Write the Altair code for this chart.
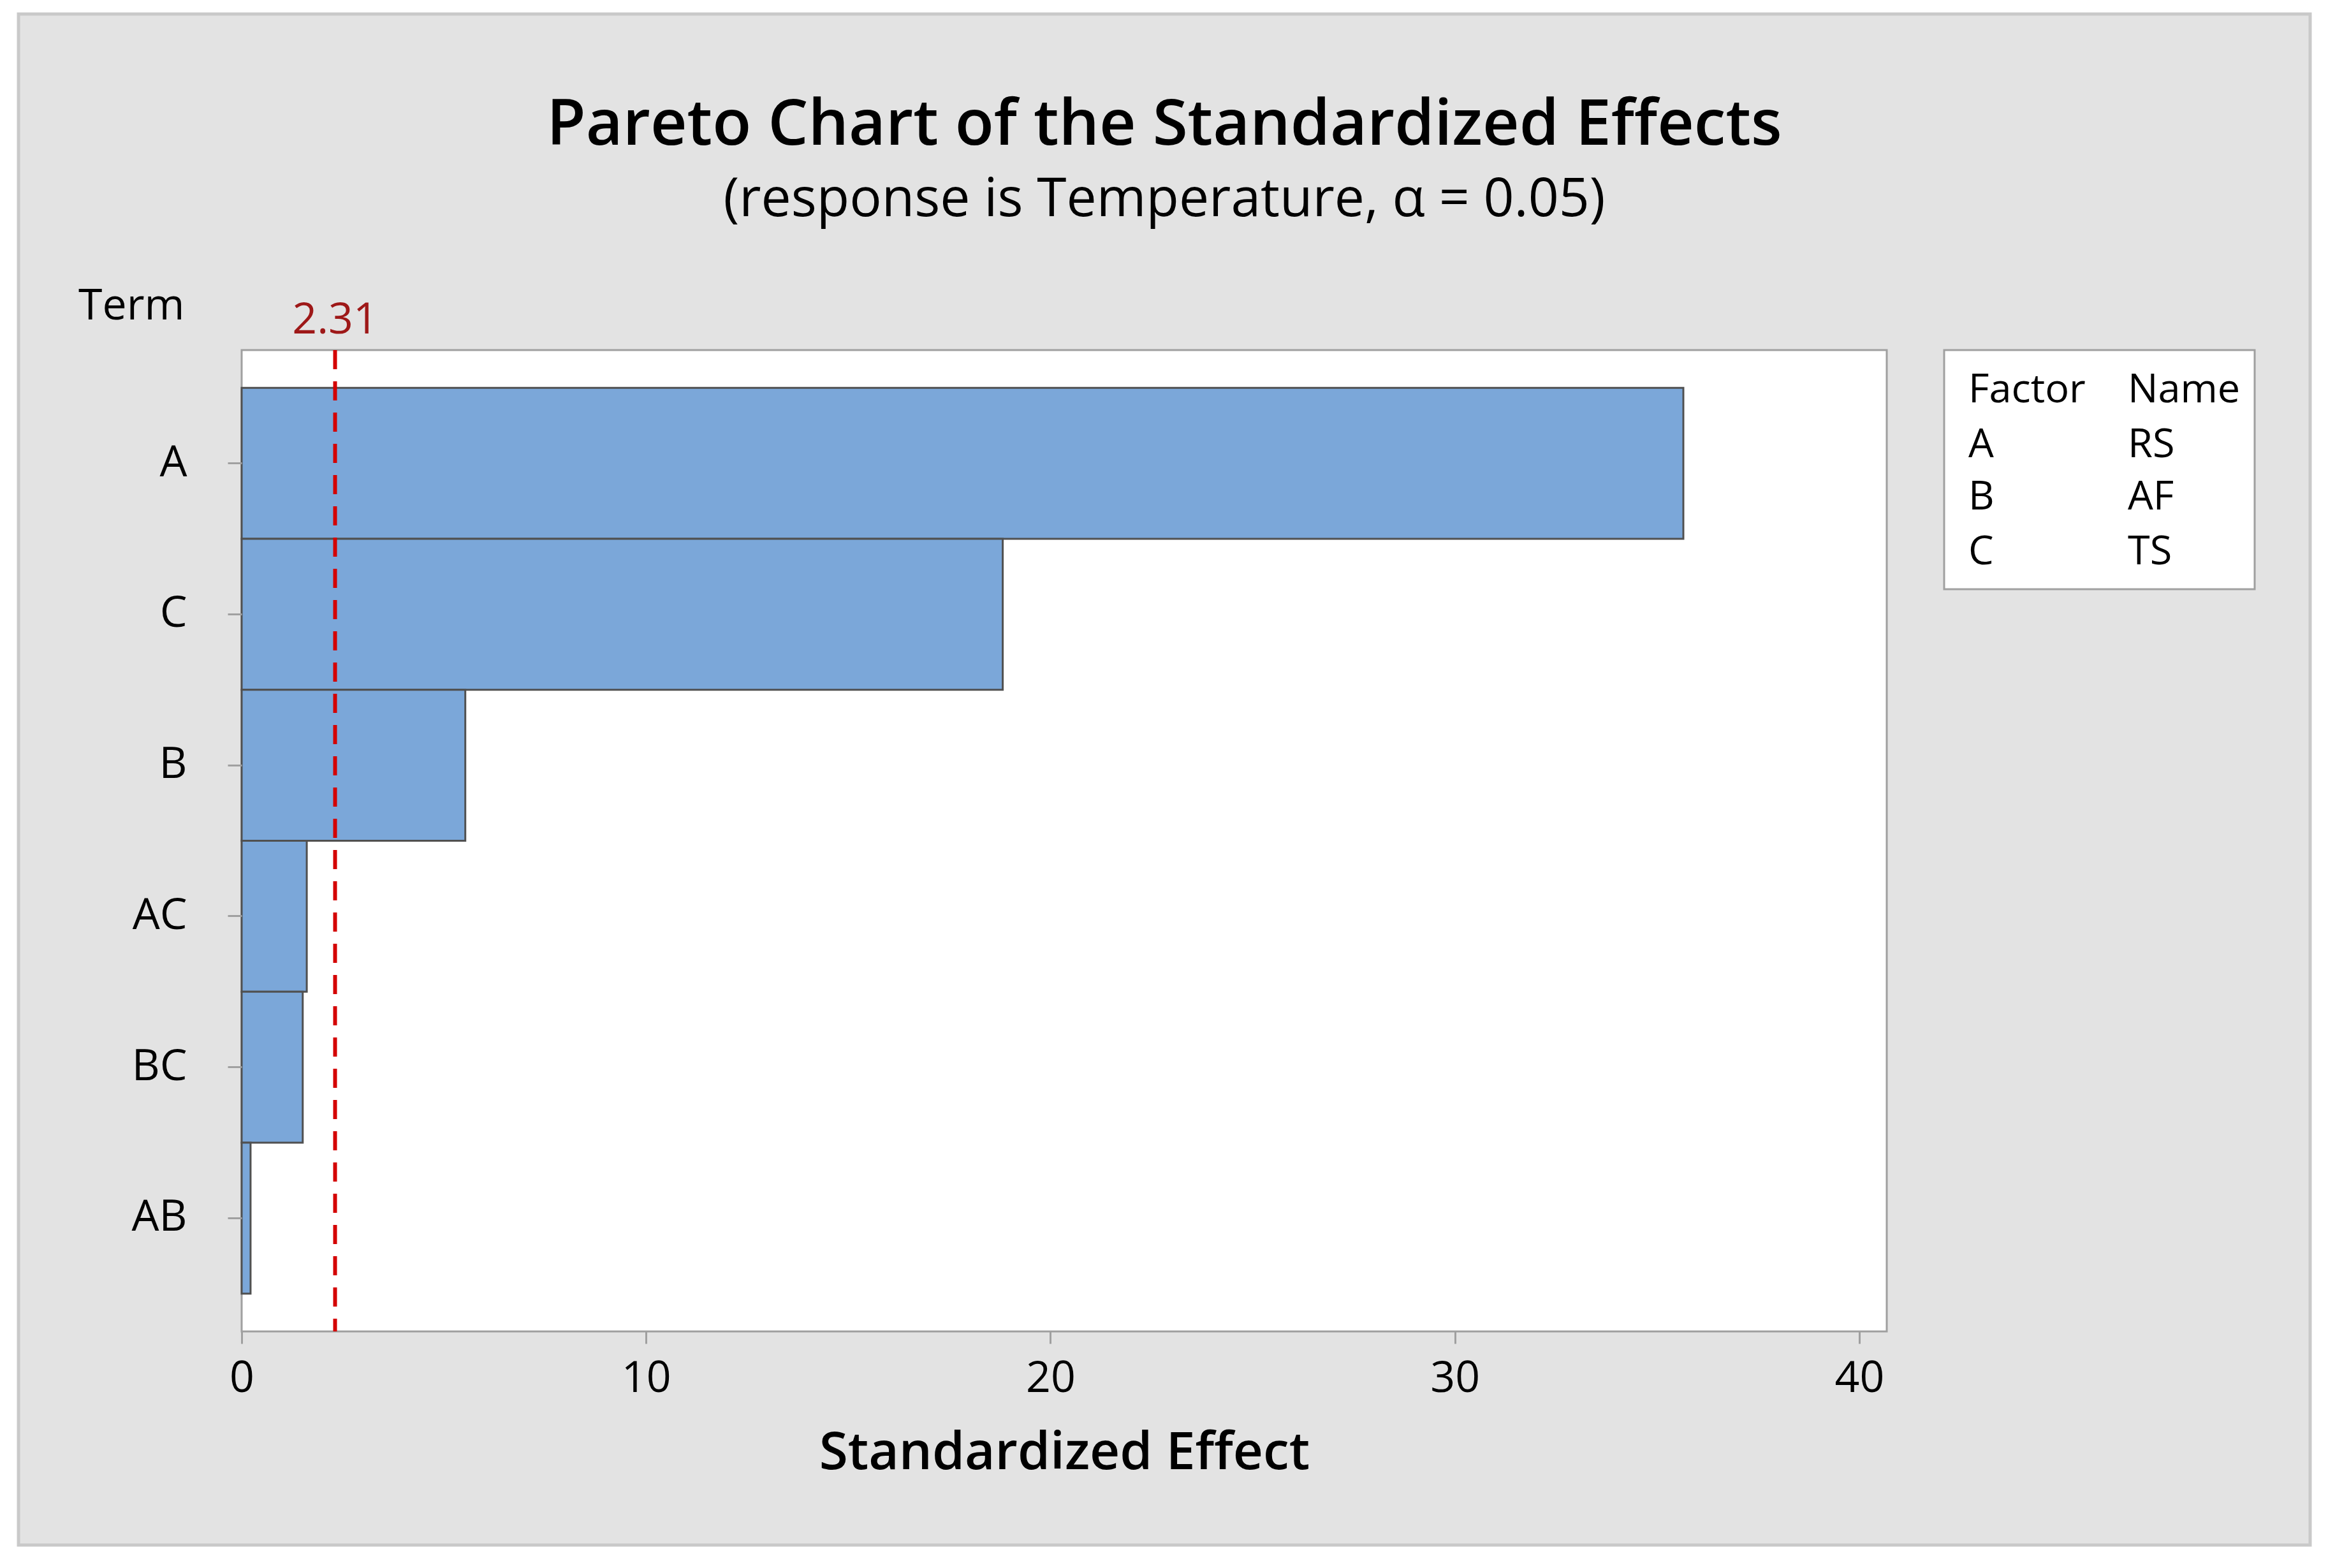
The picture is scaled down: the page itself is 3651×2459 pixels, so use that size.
import altair as alt
import pandas as pd

# ---- data ----
terms = ["A", "C", "B", "AC", "BC", "AB"]
effects = [35.65, 18.82, 5.53, 1.61, 1.51, 0.22]
critical_value = 2.31
factor_letters = ["A", "B", "C"]
factor_names = ["RS", "AF", "TS"]
x_ticks = [0, 10, 20, 30, 40]
x_max = 40.68

# ---- layout constants (pixels) ----
W, H = 2580, 1539
FONT = "Open Sans"
FS = 68
LW = 500

bars_df = pd.DataFrame({"Term": terms, "Effect": effects})
one = pd.DataFrame({"v": [critical_value]})

x_scale = alt.Scale(domain=[0, x_max], nice=False, zero=True)
y_scale = alt.Scale(domain=terms, paddingInner=0, paddingOuter=0.25)

# background panel (grey, with border)
panel = alt.Chart(one).mark_rect(fill="#e3e3e3", stroke="#c9c9c9", strokeWidth=5).encode(
    x=alt.value(-350), x2=alt.value(3244), y=alt.value(-527), y2=alt.value(1874)
)
# white plot area with grey frame
plot_bg = alt.Chart(one).mark_rect(fill="white", stroke="#a0a0a0", strokeWidth=3).encode(
    x=alt.value(0), x2=alt.value(W), y=alt.value(0), y2=alt.value(H)
)
# factor/name table box
table_box = alt.Chart(one).mark_rect(fill="white", stroke="#a0a0a0", strokeWidth=3).encode(
    x=alt.value(2670), x2=alt.value(3157), y=alt.value(0), y2=alt.value(375)
)

bars = alt.Chart(bars_df).mark_bar(
    fill="#7ba7d9", stroke="#505050", strokeWidth=3
).encode(
    x=alt.X(
        "Effect:Q",
        scale=x_scale,
        axis=alt.Axis(
            values=x_ticks,
            format="d",
            labelFlush=False,
            title="Standardized Effect",
            titleFontSize=82,
            titleFontWeight=600,
            titleFont=FONT,
            titleColor="black",
            titleX=W / 2,
            titleY=215,
            titleBaseline="alphabetic",
            labelFontSize=FS,
            labelFont=FONT,
            labelFontWeight=LW,
            labelColor="black",
            labelBaseline="alphabetic",
            labelPadding=75,
            tickSize=19,
            tickWidth=3,
            tickColor="#a0a0a0",
            domain=False,
            grid=False,
            zindex=1,
        ),
    ),
    y=alt.Y(
        "Term:N",
        scale=y_scale,
        sort=terms,
        axis=alt.Axis(
            title="Term",
            titleAngle=0,
            titleFontSize=FS,
            titleFontWeight=LW,
            titleFont=FONT,
            titleColor="black",
            titleX=-90,
            titleY=-49,
            titleAlign="right",
            titleBaseline="alphabetic",
            labelFontSize=FS,
            labelFont=FONT,
            labelFontWeight=LW,
            labelColor="black",
            labelPadding=64,
            tickSize=22,
            tickWidth=3,
            tickColor="#a0a0a0",
            domain=False,
            grid=False,
            zindex=1,
        ),
    ),
)

crit_rule = alt.Chart(one).mark_rule(
    color="#d40000", strokeWidth=6, strokeDash=[30, 19]
).encode(x=alt.X("v:Q", scale=x_scale))

crit_label = alt.Chart(one).mark_text(
    color="#9e1818", fontSize=FS, font=FONT, fontWeight=LW, baseline="alphabetic", align="center"
).encode(
    x=alt.X("v:Q", scale=x_scale),
    y=alt.value(-26),
    text=alt.Text("v:Q", format=".2f"),
)

# factor / name table
TFS = 63
table_layers = []
col_x = [2708, 2958]
row_y = [82, 168, 250, 336]
headers = ["Factor", "Name"]
for c, head in enumerate(headers):
    table_layers.append(
        alt.Chart(one).mark_text(
            text=head, fontSize=TFS, font=FONT, fontWeight=LW, color="black",
            align="left", baseline="alphabetic"
        ).encode(x=alt.value(col_x[c]), y=alt.value(row_y[0]))
    )
for r, (fl, fn) in enumerate(zip(factor_letters, factor_names)):
    for c, txt in enumerate([fl, fn]):
        table_layers.append(
            alt.Chart(one).mark_text(
                text=txt, fontSize=TFS, font=FONT, fontWeight=LW, color="black",
                align="left", baseline="alphabetic"
            ).encode(x=alt.value(col_x[c]), y=alt.value(row_y[r + 1]))
        )

chart = alt.layer(
    panel, plot_bg, table_box, bars, crit_rule, crit_label, *table_layers
).properties(
    width=W,
    height=H,
    padding={"left": 371, "top": 541, "right": 684, "bottom": 363},
    autosize=alt.AutoSizeParams(type="none"),
    background="white",
    title=alt.TitleParams(
        text="Pareto Chart of the Standardized Effects",
        subtitle="(response is Temperature, α = 0.05)",
        font=FONT,
        fontSize=100,
        fontWeight=600,
        color="black",
        subtitleFont=FONT,
        subtitleFontSize=84,
        subtitleFontWeight=LW,
        subtitleColor="black",
        subtitlePadding=25,
        anchor="middle",
        frame="group",
        dx=157,
        offset=-337,
    ),
).configure_view(strokeWidth=0)

chart.save("out.html", embed_options={"renderer": "svg", "actions": False})
